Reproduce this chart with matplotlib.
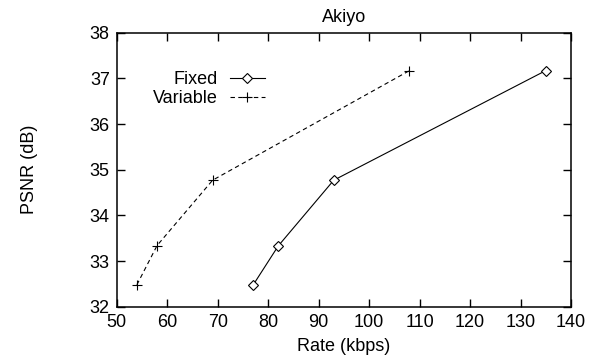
import matplotlib
matplotlib.use("Agg")
import matplotlib.pyplot as plt

fixed_rate = [77, 82, 93, 135]
fixed_psnr = [32.47, 33.33, 34.77, 37.17]
var_rate = [54, 58, 69, 108]
var_psnr = [32.48, 33.34, 34.77, 37.17]
xticks = list(range(50, 141, 10))
yticks = list(range(32, 39))

plt.rcParams['font.family'] = ['Liberation Sans', 'DejaVu Sans']
plt.rcParams['font.size'] = 13

fig = plt.figure(figsize=(5.91, 3.56), dpi=100)
ax = fig.add_axes([116.7/591, 1 - 306.7/356, (571-116.7)/591, (306.7-32.7)/356])

ax.plot(fixed_rate, fixed_psnr, color='black', lw=0.8, marker='D', markersize=5,
        markerfacecolor='white', markeredgecolor='black', markeredgewidth=0.8, label='Fixed')
ax.plot(var_rate, var_psnr, color='black', lw=0.8, ls=(0, (4, 3)), marker='+', markersize=7,
        markeredgewidth=0.8, label='Variable')

ax.set_xlim(50, 140)
ax.set_ylim(32, 38)
ax.set_xticks(xticks)
ax.set_yticks(yticks)
ax.tick_params(direction='in', length=6, width=1, top=True, right=True, labelsize=13, pad=5)
for s in ax.spines.values():
    s.set_linewidth(1.1)

ax.set_title('Akiyo', fontsize=13, pad=8)
ax.set_xlabel('Rate (kbps)', fontsize=13, labelpad=5)
ax.set_ylabel('PSNR (dB)', fontsize=13, labelpad=37)

leg = ax.legend(loc='upper right', bbox_to_anchor=(0.326, 0.86), markerfirst=False, frameon=False,
                handlelength=1.95, handletextpad=0.65, labelspacing=0.1, fontsize=13, borderaxespad=0,
                borderpad=0)

fig.savefig('out.png', dpi=100)
